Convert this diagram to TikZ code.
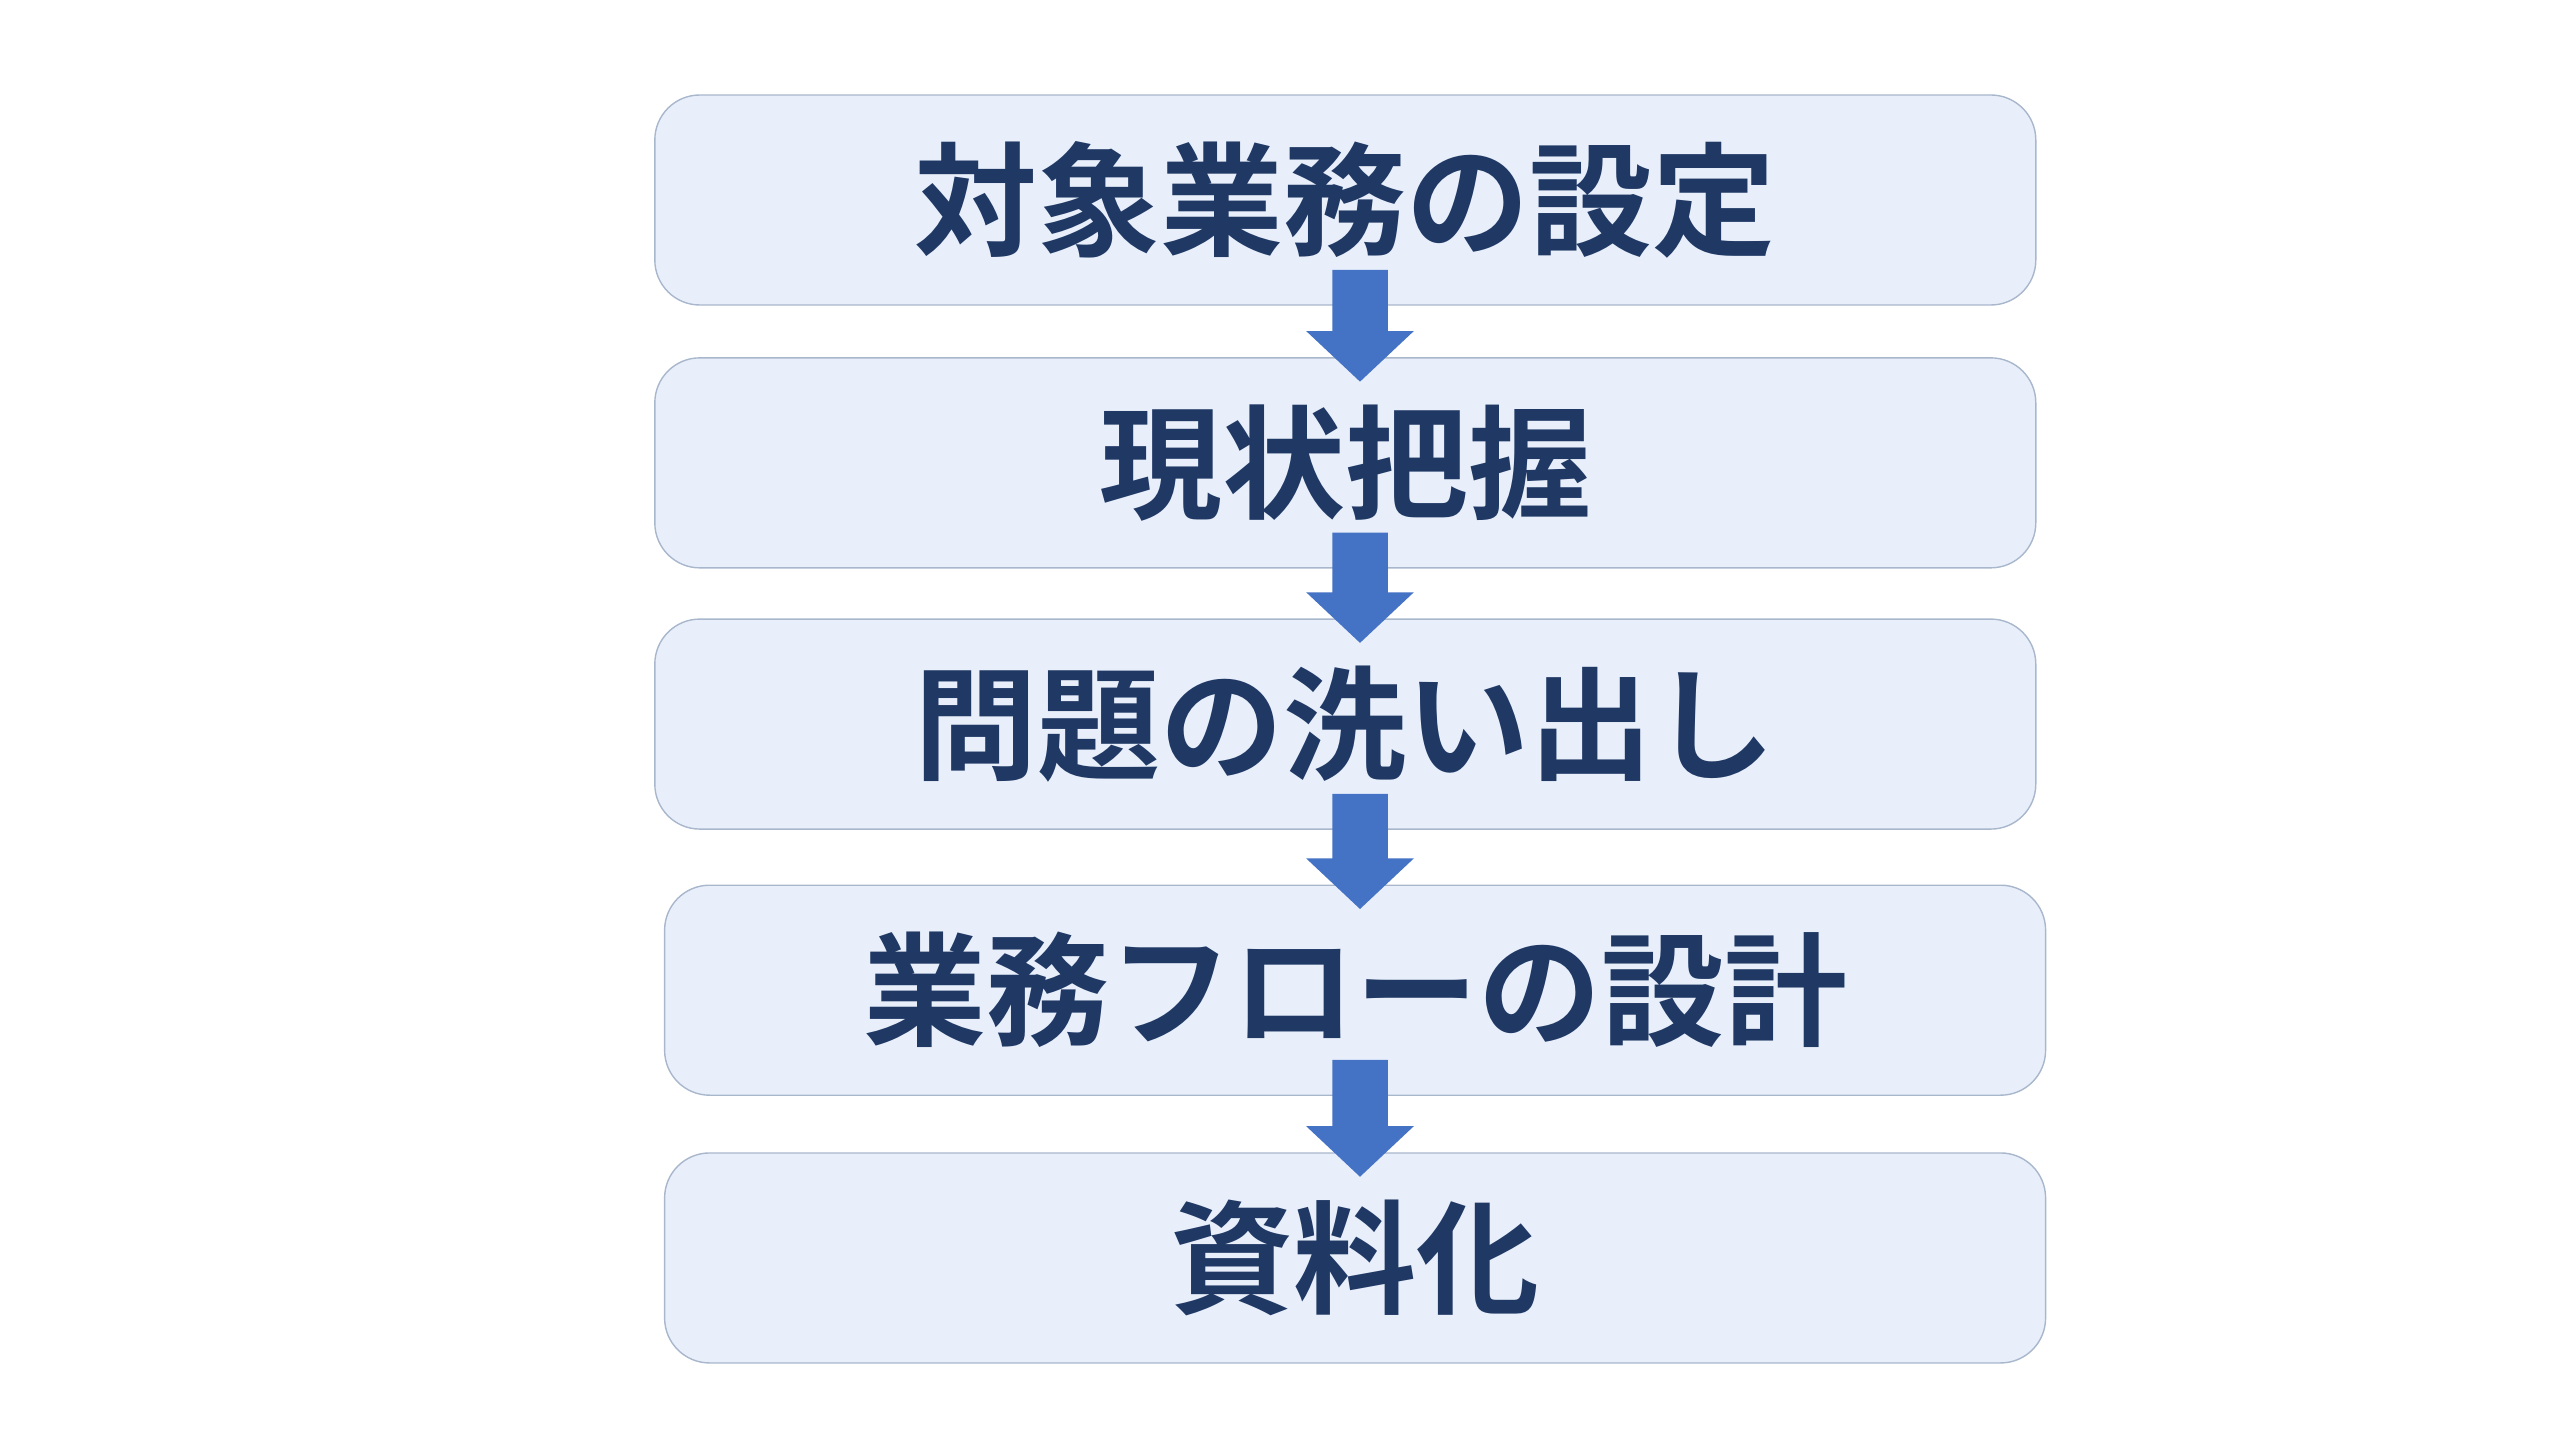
\documentclass[tikz,border=0pt]{standalone}
\usepackage{fontspec}
\newfontfamily\cjk{Noto Sans CJK JP Bold}
\usetikzlibrary{positioning,calc}

\definecolor{boxfill}{HTML}{E8EFFB}
\definecolor{boxline}{HTML}{A9B7CC}
\definecolor{arrowblue}{HTML}{4472C4}
\definecolor{textnavy}{HTML}{1F3864}

\begin{document}
\begin{tikzpicture}[
    x=0.016327cm, y=-0.016327cm,
    stepbox/.style={rectangle, draw=boxline, fill=boxfill, rounded corners=0.45cm,
        minimum width=13.81cm, minimum height=2.10cm, inner sep=0pt,
        font=\cjk\fontsize{35}{40}\selectfont, text=textnavy},
    flow/.style={fill=arrowblue}
]
\useasboundingbox (0,0) rectangle (1568,882);

% Steps
\node[stepbox] (target) at (824,122.5) {対象業務の設定};
\node[stepbox] (current) at (824,283.5) {現状把握};
\node[stepbox] (issues) at (824,443.5) {問題の洗い出し};
\node[stepbox] (design) at (830,606.5) {業務フローの設計};
\node[stepbox] (docs) at (830,770.5) {資料化};

% Arrows
\foreach \a/\b in {target/current, current/issues, issues/design, design/docs}{
    \path (\a.south) ++(0,-22) coordinate (top);
    \path (\b.north) ++(0,15) coordinate (tip);
    \fill[flow] (816,0 |- top) -- (850,0 |- top) -- ($(850,0 |- tip)+(0,-31)$)
        -- ($(866,0 |- tip)+(0,-31)$) -- (833,0 |- tip)
        -- ($(800,0 |- tip)+(0,-31)$) -- ($(816,0 |- tip)+(0,-31)$) -- cycle;
}
\end{tikzpicture}
\end{document}
